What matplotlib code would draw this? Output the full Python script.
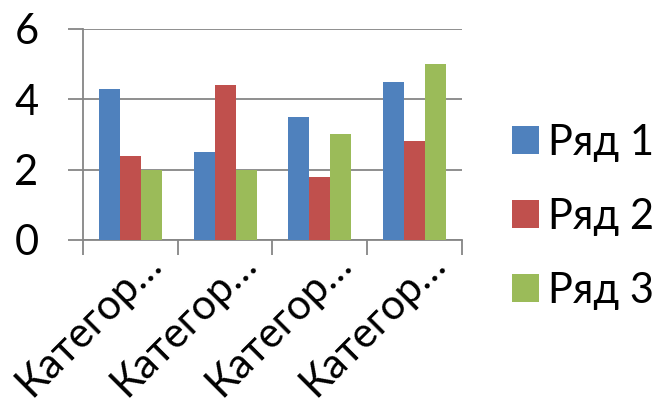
import matplotlib.pyplot as plt
import matplotlib.transforms as mtransforms
import numpy as np

plt.rcParams['font.family'] = ['Lato', 'DejaVu Sans']

# Data
categories = ["Категор…", "Категор…", "Категор…", "Категор…"]
series_names = ["Ряд 1", "Ряд 2", "Ряд 3"]
row1 = [4.3, 2.5, 3.5, 4.5]
row2 = [2.4, 4.4, 1.8, 2.8]
row3 = [2.0, 2.0, 3.0, 5.0]
colors = ["#4F81BD", "#C0504D", "#9BBB59"]

fig = plt.figure(figsize=(6.59, 4.13), dpi=100)
ax = fig.add_axes([0.126, 0.419, 0.575, 0.511])

x = np.arange(len(categories))
width = 0.222
for i, (vals, name) in enumerate(zip([row1, row2, row3], series_names)):
    ax.bar(x + (i - 1) * width, vals, width, color=colors[i], label=name, zorder=3)

# Axes styling
grid_color = "#868686"
ax.set_xlim(-0.5, len(categories) - 0.5)
ax.set_ylim(0, 6)
ax.set_yticks([0, 2, 4, 6])
ax.yaxis.grid(True, color=grid_color, linewidth=1.3, zorder=0)
for s in ["top", "right"]:
    ax.spines[s].set_visible(False)
for s in ["left", "bottom"]:
    ax.spines[s].set_color(grid_color)
    ax.spines[s].set_linewidth(1.3)

ax.tick_params(axis="y", length=11, width=1.3, color=grid_color, labelsize=30, pad=21)
ax.set_xticks(x)
ax.set_xticklabels(categories, rotation=45, ha="right", va="baseline",
                   rotation_mode="anchor", fontsize=30)
ax.tick_params(axis="x", which="major", length=0, pad=19)
shift = mtransforms.ScaledTranslation(0.33, 0, fig.dpi_scale_trans)
for lbl in ax.get_xticklabels():
    lbl.set_transform(lbl.get_transform() + shift)
ax.set_xticks(np.arange(-0.5, len(categories)), minor=True)
ax.tick_params(axis="x", which="minor", length=11, width=1.3, color=grid_color)

fig.legend(loc="center left", bbox_to_anchor=(0.777, 0.475), frameon=False,
           fontsize=30, handlelength=0.65, handleheight=0.65, handletextpad=0.22,
           labelspacing=0.86, borderaxespad=0, borderpad=0)

fig.savefig("out.png", dpi=100)
